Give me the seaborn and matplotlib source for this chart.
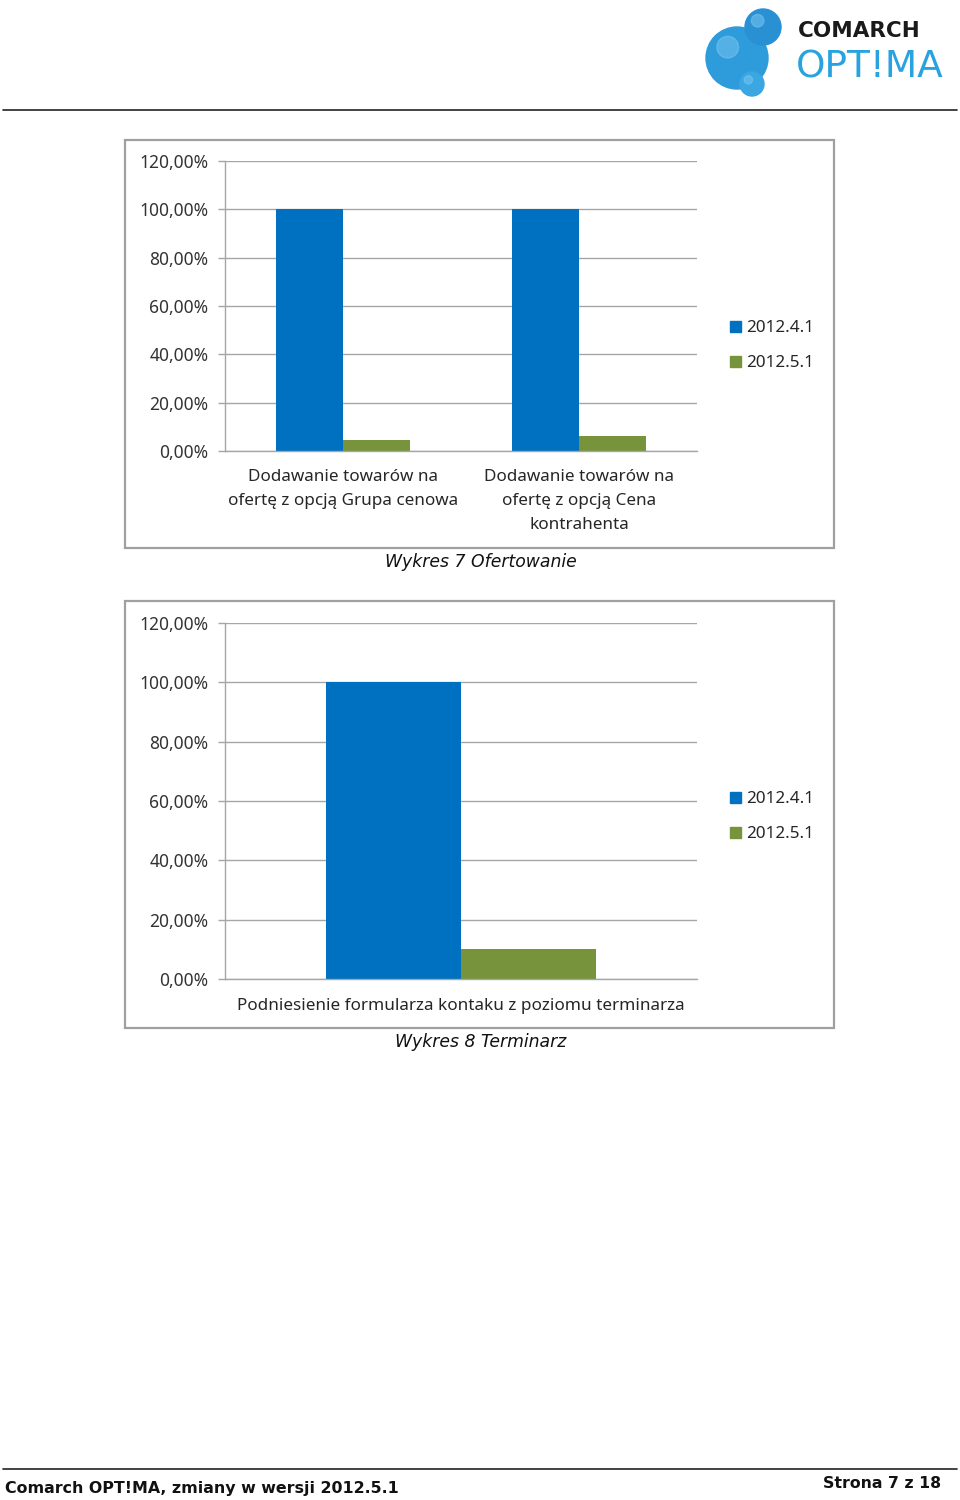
import matplotlib
matplotlib.use('Agg')
import matplotlib.pyplot as plt
import matplotlib.patches as mpatches
from matplotlib.ticker import FuncFormatter, FixedLocator
import pandas as pd
import seaborn as sns

# data
versions = ['2012.4.1', '2012.5.1']
cats_1 = ['Dodawanie towarów na\nofertę z opcją Grupa cenowa',
          'Dodawanie towarów na\nofertę z opcją Cena\nkontrahenta']
vals_1_old = [1.00, 1.00]
vals_1_new = [0.047, 0.061]
cats_2 = ['Podniesienie formularza kontaku z poziomu terminarza']
vals_2_old = [1.00]
vals_2_new = [0.102]
y_ticks = [0.0, 0.2, 0.4, 0.6, 0.8, 1.0, 1.2]

BLUE = '#0070C0'
GREEN = '#77933C'
GRID = '#A6A6A6'
TXT = '#262626'

sns.set_theme(style='white')
plt.rcParams['font.family'] = ['Noto Sans', 'DejaVu Sans']

W, H = 960, 1500
fig = plt.figure(figsize=(W / 100, H / 100), dpi=100)


def rect(x0, y0, x1, y1):
    # pixel box (top-left origin) -> figure fraction
    return [x0 / W, 1 - y1 / H, (x1 - x0) / W, (y1 - y0) / H]


def frame(x0, y0, x1, y1):
    fig.patches.append(mpatches.Rectangle((x0 / W, 1 - y1 / H), (x1 - x0) / W, (y1 - y0) / H,
                                          transform=fig.transFigure, fill=False,
                                          edgecolor='#A0A0A0', linewidth=1.6))


def make_chart(box, cats, old, new, leg_y, lab_pad):
    df = pd.DataFrame({
        'cat': cats * 2,
        'ver': [versions[0]] * len(cats) + [versions[1]] * len(cats),
        'val': list(old) + list(new),
    })
    ax = fig.add_axes(rect(*box))
    sns.barplot(data=df, x='cat', y='val', hue='ver', palette=[BLUE, GREEN],
                width=0.57, saturation=1, ax=ax, legend=False, linewidth=0)
    ax.set_ylim(0, 1.2)
    ax.yaxis.set_major_locator(FixedLocator(y_ticks))
    ax.yaxis.set_major_formatter(FuncFormatter(lambda v, p: f'{v * 100:.2f}%'.replace('.', ',')))
    ax.grid(axis='y', color=GRID, linewidth=1)
    ax.set_axisbelow(True)
    for s in ['top', 'right']:
        ax.spines[s].set_visible(False)
    for s in ['left', 'bottom']:
        ax.spines[s].set_color(GRID)
        ax.spines[s].set_linewidth(1)
    ax.set_xlabel('')
    ax.set_ylabel('')
    n = len(cats)
    ax.set_xlim(-0.5, n - 0.5)
    ax.set_xticks([i - 0.5 for i in range(n + 1)], minor=True)
    ax.tick_params(axis='x', which='minor', length=6, color=GRID, width=1, direction='out')
    ax.tick_params(axis='x', which='major', length=0, pad=lab_pad, labelsize=12.3, labelcolor=TXT)
    ax.tick_params(axis='y', length=5, color=GRID, width=1, direction='out', pad=7,
                   labelsize=12.5, labelcolor='#333333', left=True)
    for t in ax.get_xticklabels():
        t.set_linespacing(1.65)
        t.set_verticalalignment('top')
    handles = [mpatches.Patch(color=BLUE, label=versions[0]),
               mpatches.Patch(color=GREEN, label=versions[1])]
    fig.legend(handles=handles, loc='upper left', bbox_to_anchor=(715 / W, 1 - leg_y / H),
               frameon=False, fontsize=12.3, handlelength=0.6, handleheight=0.6,
               handletextpad=0.3, labelspacing=1.1, labelcolor=TXT)
    return ax


# chart 1
frame(125, 140, 834, 548)
make_chart((225, 161, 697, 451), cats_1, vals_1_old, vals_1_new, 305, 13)
fig.text(481 / W, 1 - 562 / H, 'Wykres 7 Ofertowanie', ha='center', va='center',
         family='DejaVu Sans', style='italic', fontsize=12.4, color='#111111')

# chart 2
frame(125, 601, 834, 1028)
make_chart((225, 623, 697, 979), cats_2, vals_2_old, vals_2_new, 776, 14)
fig.text(481 / W, 1 - 1042 / H, 'Wykres 8 Terminarz', ha='center', va='center',
         family='DejaVu Sans', style='italic', fontsize=12.4, color='#111111')

# header rule and logo
fig.add_artist(plt.Line2D([3 / W, 957 / W], [1 - 110 / H, 1 - 110 / H], color='#222222', linewidth=1.2))
lax = fig.add_axes(rect(700, 0, 960, 105))
lax.set_xlim(700, 960)
lax.set_ylim(105, 0)
lax.axis('off')
lax.set_aspect('equal')
for cx, cy, r, c in [(737, 58, 31, '#2E9BDA'), (763, 27, 18, '#2A90D4'), (752, 84, 12, '#3AA6E2')]:
    lax.add_patch(mpatches.Circle((cx, cy), r, color=c, zorder=2))
    lax.add_patch(mpatches.Circle((cx - r * 0.3, cy - r * 0.35), r * 0.35, color='#7CC8F0', alpha=0.5, zorder=3))
lax.text(798, 31, 'COMARCH', fontsize=15.5, fontweight='heavy', color='#1A1A1A',
         va='center', ha='left', family='DejaVu Sans Condensed')
lax.text(796, 68, 'OPT!MA', fontsize=27, color='#29A3E0', va='center', ha='left',
         family='DejaVu Sans')

# footer
fig.add_artist(plt.Line2D([3 / W, 957 / W], [1 - 1469 / H, 1 - 1469 / H], color='#222222', linewidth=1.2))
fig.text(5 / W, 1 - 1489 / H, 'Comarch OPT!MA, zmiany w wersji 2012.5.1', ha='left', va='center',
         family='DejaVu Sans', fontweight='bold', fontsize=11.4, color='#111111')
fig.text(941 / W, 1 - 1484 / H, 'Strona 7 z 18', ha='right', va='center',
         family='DejaVu Sans', fontweight='bold', fontsize=11.3, color='#111111')

fig.savefig('out.png', dpi=100)
